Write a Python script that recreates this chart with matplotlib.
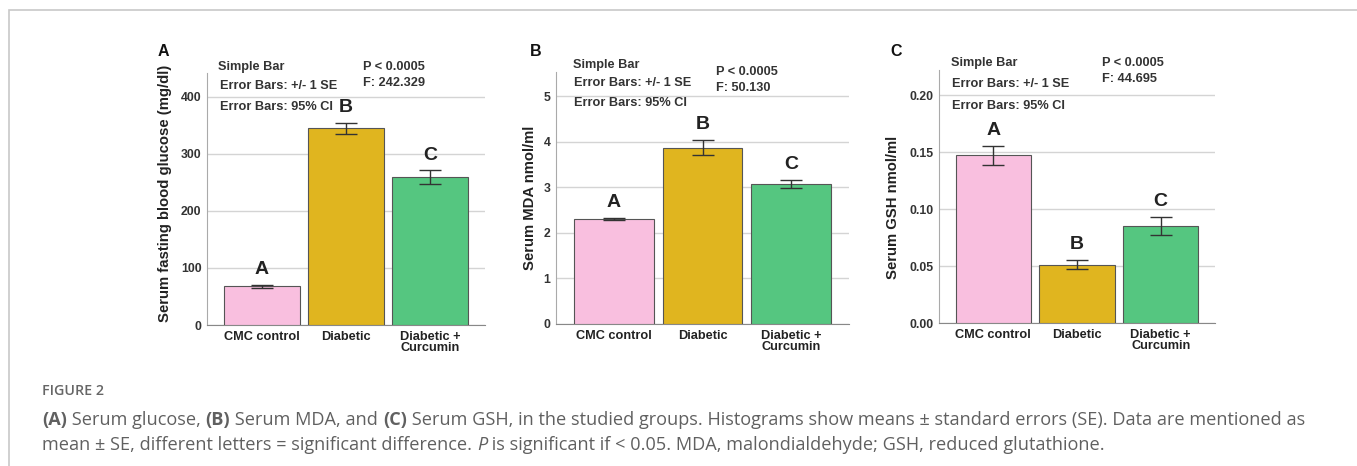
import numpy as np
import matplotlib
matplotlib.use("Agg")
import matplotlib.pyplot as plt
from matplotlib.patches import Rectangle

# data (means and SE)
groups = ["CMC control", "Diabetic", "Diabetic +\nCurcumin"]
glucose = [68, 345, 259]
glucose_se = [2.5, 9.5, 12]
mda = [2.30, 3.87, 3.08]
mda_se = [0.02, 0.16, 0.09]
gsh = [0.147, 0.051, 0.085]
gsh_se = [0.0085, 0.004, 0.008]
letters = ["A", "B", "C"]
stats = [("P < 0.0005", "F: 242.329"), ("P < 0.0005", "F: 50.130"), ("P < 0.0005", "F: 44.695")]
ylabels = ["Serum fasting blood glucose (mg/dl)", "Serum MDA nmol/ml", "Serum GSH nmol/ml"]
yticks = [[0, 100, 200, 300, 400], [0, 1, 2, 3, 4, 5], [0, 0.05, 0.10, 0.15, 0.20]]
ylims = [442, 5.53, 0.222]

colors = ["#f9bfdf", "#e0b51f", "#55c680"]
W, H = 1357, 466

plt.rcParams["font.family"] = ["Liberation Sans", "DejaVu Sans"]

fig = plt.figure(figsize=(W / 100, H / 100), dpi=100)

# thin frame around the figure (top and left visible)
fig.patches.append(Rectangle((9 / W, -0.1), 1.2, (H - 10) / H + 0.1, transform=fig.transFigure,
                             fill=False, edgecolor="#c8c8c8", linewidth=1.2))

# axes boxes in pixels: left, right, bottom, top
boxes = [(207, 485, 325, 73), (556, 849, 324, 72), (939, 1215, 323, 70)]
# text positions: (simple bar x, y1, y2, y3), (p x, p y, f y)
info_pos = [((0.04, 1.024, 0.948, 0.865), (0.56, 1.024, 0.96)),
            ((0.058, 1.028, 0.956, 0.877), (0.545, 1.0, 0.937)),
            ((0.043, 1.028, 0.945, 0.858), (0.59, 1.028, 0.964))]
panel_xy = [(158, 51), (530, 52), (890, 52)]
ylabel_xy = [(165, 193), (530, 198), (893, 207)]

series = [(glucose, glucose_se), (mda, mda_se), (gsh, gsh_se)]
tickfmt = ["{:.0f}", "{:.0f}", "{:.2f}"]

for i, (vals, se) in enumerate(series):
    l, r, b, t = boxes[i]
    ax = fig.add_axes([l / W, (H - b) / H, (r - l) / W, (b - t) / H])
    x = np.arange(len(groups))
    ax.bar(x, vals, width=0.9, color=colors, edgecolor="#555555", linewidth=0.8, zorder=3)
    ax.errorbar(x, vals, yerr=se, fmt="none", ecolor="#333333", elinewidth=1.0,
                capsize=8, capthick=1.0, zorder=4)
    for xi, v, s, lt in zip(x, vals, se, letters):
        ax.annotate(lt, (xi, v + s), xytext=(0, 5), textcoords="offset points",
                    ha="center", va="bottom", fontsize=14, fontweight="bold", color="#222222")
    ax.set_xlim(-0.65, 2.65)
    ax.set_ylim(0, ylims[i])
    ax.set_yticks(yticks[i])
    ax.set_yticklabels([tickfmt[i].format(v) for v in yticks[i]], fontsize=8.8,
                       fontweight="bold", color="#333333")
    ax.set_xticks(x)
    ax.set_xticklabels(groups, fontsize=9.2, fontweight="bold", color="#222222",
                       linespacing=0.95)
    ax.tick_params(length=0, pad=4)
    ax.yaxis.grid(True, color="#d4d4d4", linewidth=1.0, zorder=0)
    ax.set_axisbelow(True)
    for s in ["top", "right"]:
        ax.spines[s].set_visible(False)
    ax.spines["left"].set_color("#aaaaaa")
    ax.spines["bottom"].set_color("#888888")

    (sx, y1, y2, y3), (px, py, fy) = info_pos[i]
    kw = dict(transform=ax.transAxes, fontsize=9.2, fontweight="bold", color="#333333",
              va="center", ha="left", clip_on=False)
    ax.text(sx, y1, "Simple Bar", **kw)
    ax.text(sx + 0.005, y2, "Error Bars: +/- 1 SE", **kw)
    ax.text(sx + 0.005, y3, "Error Bars: 95% CI", **kw)
    ax.text(px, py, stats[i][0], **kw)
    ax.text(px, fy, stats[i][1], **kw)

    fig.text(panel_xy[i][0] / W, 1 - panel_xy[i][1] / H, letters[i], fontsize=11.5,
             fontweight="bold", ha="left", va="center", color="#111111")
    fig.text(ylabel_xy[i][0] / W, 1 - ylabel_xy[i][1] / H, ylabels[i], rotation=90,
             fontsize=10.7, fontweight="bold", ha="center", va="center", color="#222222")

# caption
cap_font = ["Open Sans", "DejaVu Sans"]
cap_color = "#606060"
fig.text(42 / W, 1 - 391 / H, "FIGURE 2", fontsize=10.3, family=cap_font, color="#666666",
         fontweight="semibold", va="center", ha="left")

line1 = [("(A)", "bold", "normal"), (" Serum glucose, ", "normal", "normal"),
         ("(B)", "bold", "normal"), (" Serum MDA, and ", "normal", "normal"),
         ("(C)", "bold", "normal"),
         (" Serum GSH, in the studied groups. Histograms show means \u00b1 standard errors (SE). Data are mentioned as",
          "normal", "normal")]
line2 = [("mean \u00b1 SE, different letters = significant difference. ", "normal", "normal"),
         ("P", "normal", "italic"),
         (" is significant if < 0.05. MDA, malondialdehyde; GSH, reduced glutathione.", "normal", "normal")]

renderer = fig.canvas.get_renderer()


def put_line(parts, x0, y0, size):
    x = x0
    for txt, wt, st in parts:
        tx = fig.text(x / W, 1 - y0 / H, txt, fontsize=size, family=cap_font, fontweight=wt,
                      style=st, color=cap_color, va="center", ha="left")
        bb = tx.get_window_extent(renderer=renderer)
        x += bb.width


put_line(line1, 42, 420, 13.1)
put_line(line2, 42, 445, 13.1)

fig.savefig("out.png", dpi=100, facecolor="white")
